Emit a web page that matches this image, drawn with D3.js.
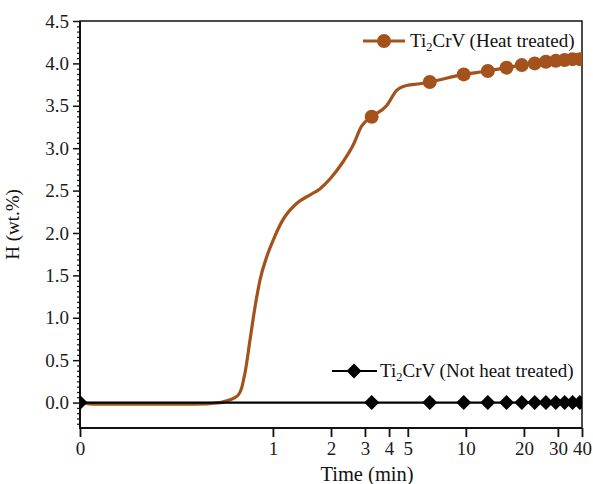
<!DOCTYPE html>
<html>
<head>
<meta charset="utf-8">
<script src="https://cdn.jsdelivr.net/npm/d3@7"></script>
<style>
    body { margin: 0; background: #fff; }
    svg { display: block; font-family: "Liberation Serif", "Times New Roman", serif; }
    .tick text { fill: #1b1b1b; }
</style>
</head>
<body>
<svg id="chart" width="593" height="484"></svg>
<script>
// Heat-treated sample: absorption curve (time in min, H in wt.%)
const heatCurveTime = [0.1, 0.122, 0.386, 0.532, 0.577, 0.624, 0.662, 0.69, 0.703, 0.718,
    0.761, 0.808, 0.858, 0.929, 1.005, 1.13, 1.33, 1.56, 1.75, 1.98, 2.31, 2.61, 2.88, 3.25,
    3.88, 4.37, 4.93, 5.77, 6.5, 9.75, 13, 16.25, 19.5, 22.75, 26, 29.25, 32.5, 35.75, 39, 40];
const heatCurveH = [0.0, -0.02, -0.02, 0.0, 0.02, 0.05, 0.09, 0.18, 0.26, 0.36,
    0.74, 1.13, 1.45, 1.72, 1.92, 2.16, 2.35, 2.45, 2.52, 2.64, 2.84, 3.04, 3.26, 3.37,
    3.50, 3.68, 3.74, 3.76, 3.78, 3.87, 3.91, 3.95, 3.98, 4.0, 4.02, 4.03, 4.04, 4.05, 4.05, 4.05];

// symbols are drawn every 3.25 min
const markerTime = [3.25, 6.5, 9.75, 13, 16.25, 19.5, 22.75, 26, 29.25, 32.5, 35.75, 39];
const heatMarkerH = [3.37, 3.78, 3.87, 3.91, 3.95, 3.98, 4.0, 4.02, 4.03, 4.04, 4.05, 4.05];

// Not heat treated: stays at zero
const plainTime = [0.1, 3.25, 6.5, 9.75, 13, 16.25, 19.5, 22.75, 26, 29.25, 32.5, 35.75, 39];
const plainH = [0, 0, 0, 0, 0, 0, 0, 0, 0, 0, 0, 0, 0];

const xTicks = [0.1, 1, 2, 3, 4, 5, 10, 20, 30, 40];
const yTicks = [0, 0.5, 1.0, 1.5, 2.0, 2.5, 3.0, 3.5, 4.0, 4.5];

const BROWN = '#a4521c';

const svg = d3.select('#chart');
const plotLeft = 80, plotRight = 582, plotTop = 21, plotBottom = 428;

const x = d3.scaleLog().domain([0.1, 40]).range([plotLeft, plotRight]);
const y = d3.scaleLinear().domain([-0.3, 4.5]).range([plotBottom, plotTop]);

svg.append('clipPath').attr('id', 'plot-clip')
    .append('rect')
    .attr('x', plotLeft).attr('y', plotTop)
    .attr('width', plotRight - plotLeft).attr('height', plotBottom - plotTop);

// minor ticks on the y axis, 7 between each labelled tick
const minorY = d3.range(-0.25, 4.5, 0.0625)
    .filter(v => Math.abs(v / 0.5 - Math.round(v / 0.5)) > 1e-6);

svg.append('g')
    .attr('transform', `translate(${plotLeft},0)`)
    .call(d3.axisLeft(y).tickValues(minorY).tickSize(3).tickFormat(''))
    .call(g => g.select('.domain').remove())
    .call(g => g.selectAll('line').attr('stroke', '#111').attr('stroke-width', 1.2));

svg.append('g')
    .attr('transform', `translate(${plotLeft},0)`)
    .call(d3.axisLeft(y).tickValues(yTicks).tickSize(7).tickPadding(4).tickFormat(d3.format('.1f')))
    .call(g => g.select('.domain').remove())
    .call(g => g.selectAll('line').attr('stroke', '#111').attr('stroke-width', 1.5))
    .call(g => g.selectAll('text').attr('font-size', 19).attr('font-family', 'Liberation Serif'));

svg.append('g')
    .attr('transform', `translate(0,${plotBottom})`)
    .call(d3.axisBottom(x).tickValues(xTicks).tickSize(9).tickPadding(5)
        .tickFormat(d => d === 0.1 ? '0' : d3.format('d')(d)))
    .call(g => g.select('.domain').remove())
    .call(g => g.selectAll('line').attr('stroke', '#111').attr('stroke-width', 1.8))
    .call(g => g.selectAll('text').attr('font-size', 19).attr('font-family', 'Liberation Serif'));

// frame
svg.append('rect')
    .attr('x', plotLeft).attr('y', plotTop)
    .attr('width', plotRight - plotLeft).attr('height', plotBottom - plotTop)
    .attr('fill', 'none').attr('stroke', '#111').attr('stroke-width', 1.5);
svg.append('path')
    .attr('d', `M${plotLeft},${plotTop}V${plotBottom}H${plotRight}`)
    .attr('fill', 'none').attr('stroke', '#111').attr('stroke-width', 2);

const plot = svg.append('g').attr('clip-path', 'url(#plot-clip)');

const line = d3.line()
    .x(d => x(d[0]))
    .y(d => y(d[1]))
    .curve(d3.curveMonotoneX);

plot.append('path')
    .datum(d3.zip(heatCurveTime, heatCurveH))
    .attr('d', line)
    .attr('fill', 'none')
    .attr('stroke', BROWN)
    .attr('stroke-width', 3.2);

plot.selectAll('circle.heat')
    .data(d3.zip(markerTime, heatMarkerH))
    .join('circle')
    .attr('class', 'heat')
    .attr('cx', d => x(d[0]))
    .attr('cy', d => y(d[1]))
    .attr('r', 7)
    .attr('fill', BROWN);

plot.append('path')
    .datum(d3.zip([...plainTime, 40], [...plainH, 0]))
    .attr('d', d3.line().x(d => x(d[0])).y(d => y(d[1])))
    .attr('fill', 'none')
    .attr('stroke', '#000')
    .attr('stroke-width', 2.2);

// Origin-style square-on-point diamond, half width 7.5 px
const squareDiamond = {
    draw(ctx, size) {
        const r = Math.sqrt(size) / 2;
        ctx.moveTo(0, -r);
        ctx.lineTo(r, 0);
        ctx.lineTo(0, r);
        ctx.lineTo(-r, 0);
        ctx.closePath();
    }
};
const diamond = d3.symbol().type(squareDiamond).size(225);

plot.selectAll('path.plain')
    .data(d3.zip(plainTime, plainH))
    .join('path')
    .attr('class', 'plain')
    .attr('d', diamond)
    .attr('transform', d => `translate(${x(d[0])},${y(d[1])})`)
    .attr('fill', '#000');

// legends
function legendLabel(g, lx, ly, rest) {
    const t = g.append('text')
        .attr('x', lx).attr('y', ly)
        .attr('font-size', 19)
        .attr('fill', '#111');
    t.append('tspan').text('Ti');
    t.append('tspan').attr('font-size', 12.5).attr('dy', 4).text('2');
    t.append('tspan').attr('dy', -4).text('CrV ' + rest);
}

const leg = svg.append('g');
leg.append('line')
    .attr('x1', 363).attr('x2', 405).attr('y1', 41).attr('y2', 41)
    .attr('stroke', BROWN).attr('stroke-width', 3.2);
leg.append('circle').attr('cx', 384).attr('cy', 41).attr('r', 7).attr('fill', BROWN);
legendLabel(leg, 410, 47, '(Heat treated)');

leg.append('line')
    .attr('x1', 332).attr('x2', 377).attr('y1', 371).attr('y2', 371)
    .attr('stroke', '#000').attr('stroke-width', 2.2);
leg.append('path').attr('d', diamond)
    .attr('transform', 'translate(354,371)').attr('fill', '#000');
legendLabel(leg, 380, 377, '(Not heat treated)');

// axis titles
svg.append('text')
    .attr('transform', `translate(19,${(plotTop + plotBottom) / 2}) rotate(-90)`)
    .attr('text-anchor', 'middle')
    .attr('font-size', 19)
    .attr('fill', '#111')
    .text('H (wt.%)');

svg.append('text')
    .attr('x', 367).attr('y', 481)
    .attr('text-anchor', 'middle')
    .attr('font-size', 20.5)
    .attr('fill', '#111')
    .text('Time (min)');
</script>
</body>
</html>
